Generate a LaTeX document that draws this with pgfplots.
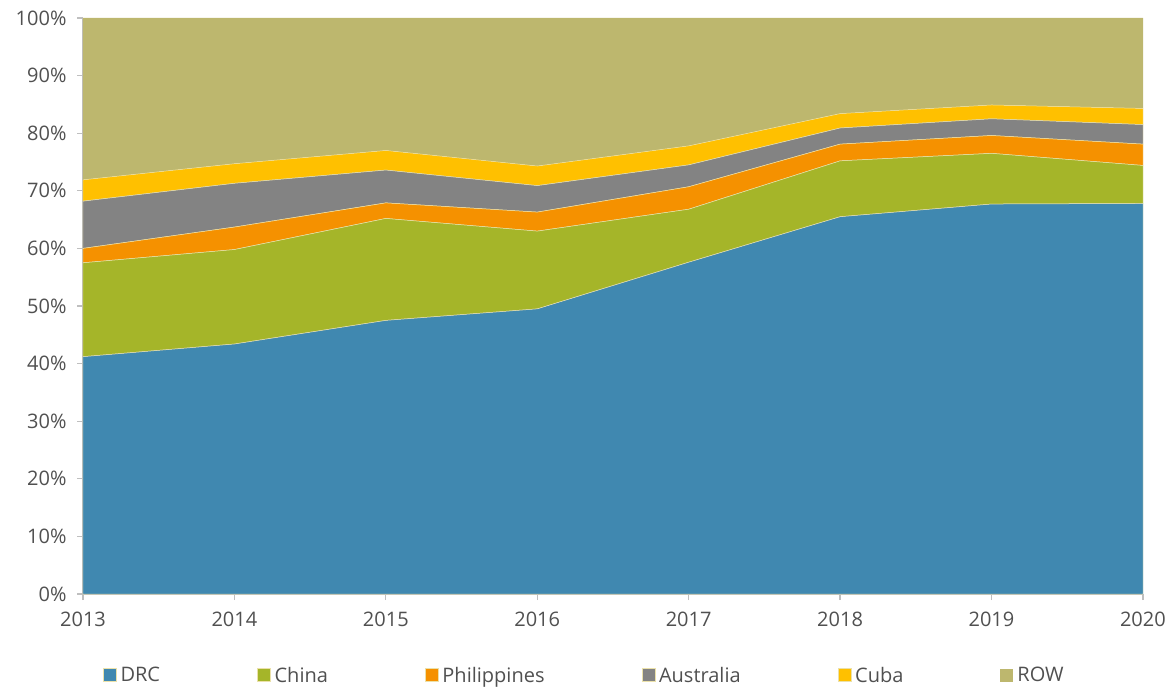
\documentclass[border=0pt]{standalone}
\usepackage{pgfplots}
\pgfplotsset{compat=1.18}
\usepackage{fontspec}
\setmainfont{Open Sans}
\definecolor{cDRC}{RGB}{64,136,176}
\definecolor{cChina}{RGB}{165,181,41}
\definecolor{cPhil}{RGB}{245,145,0}
\definecolor{cAus}{RGB}{131,131,131}
\definecolor{cCuba}{RGB}{255,192,0}
\definecolor{cROW}{RGB}{189,183,110}
\definecolor{txt}{RGB}{80,80,80}
\definecolor{axgray}{RGB}{191,191,191}
\definecolor{sep}{RGB}{235,225,170}
\begin{document}
\begin{tikzpicture}
\path[use as bounding box] (-83pt,-94pt) rectangle (1087pt,594pt);
\begin{axis}[
  at={(0pt,0pt)}, anchor=south west,
  scale only axis, width=1060pt, height=576pt,
  xmin=2013, xmax=2020, ymin=0, ymax=100,
  stack plots=y,
  axis x line*=bottom, axis y line*=left,
  axis line style={axgray, line width=1.3pt, -},
  xtick={2013,...,2020},
  xticklabels={2013,2014,2015,2016,2017,2018,2019,2020},
  ytick={0,10,...,100},
  yticklabels={0\%,10\%,20\%,30\%,40\%,50\%,60\%,70\%,80\%,90\%,100\%},
  tick style={axgray, line width=1.3pt},
  tick align=outside, major tick length=6pt,
  ticklabel style={font=\fontsize{20}{23}\selectfont, text=txt},
  yticklabel style={xshift=-7pt},
  xticklabel style={yshift=-8pt},
  legend style={at={(0.473,-0.141)}, anchor=center, draw=none, fill=none,
    font=\fontsize{20}{23}\selectfont, text=txt},
  legend columns=6,
  legend cell align=left,
  /tikz/every even column/.append style={column sep=95pt},
  /tikz/every odd column/.append style={column sep=2pt},
  legend image code/.code={\fill[#1] (0pt,-6.5pt) rectangle (13pt,6.5pt);},
]
\addplot[fill=cDRC, draw=sep, line width=0.5pt] coordinates {(2013,41.2) (2014,43.4) (2015,47.5) (2016,49.5) (2017,57.6) (2018,65.5) (2019,67.7) (2020,67.8)} \closedcycle;
\addlegendentry{DRC}
\addplot[fill=cChina, draw=sep, line width=0.5pt] coordinates {(2013,16.3) (2014,16.4) (2015,17.7) (2016,13.5) (2017,9.2) (2018,9.7) (2019,8.8) (2020,6.6)} \closedcycle;
\addlegendentry{China}
\addplot[fill=cPhil, draw=sep, line width=0.5pt] coordinates {(2013,2.5) (2014,3.9) (2015,2.7) (2016,3.3) (2017,3.9) (2018,2.9) (2019,3.1) (2020,3.7)} \closedcycle;
\addlegendentry{Philippines}
\addplot[fill=cAus, draw=sep, line width=0.5pt] coordinates {(2013,8.2) (2014,7.6) (2015,5.7) (2016,4.6) (2017,3.8) (2018,2.8) (2019,2.9) (2020,3.4)} \closedcycle;
\addlegendentry{Australia}
\addplot[fill=cCuba, draw=sep, line width=0.5pt] coordinates {(2013,3.7) (2014,3.4) (2015,3.4) (2016,3.4) (2017,3.3) (2018,2.5) (2019,2.4) (2020,2.8)} \closedcycle;
\addlegendentry{Cuba}
\addplot[fill=cROW, draw=none] coordinates {(2013,28.1) (2014,25.3) (2015,23.0) (2016,25.7) (2017,22.2) (2018,16.6) (2019,15.1) (2020,15.7)} \closedcycle;
\addlegendentry{ROW}
\end{axis}
\end{tikzpicture}
\end{document}
